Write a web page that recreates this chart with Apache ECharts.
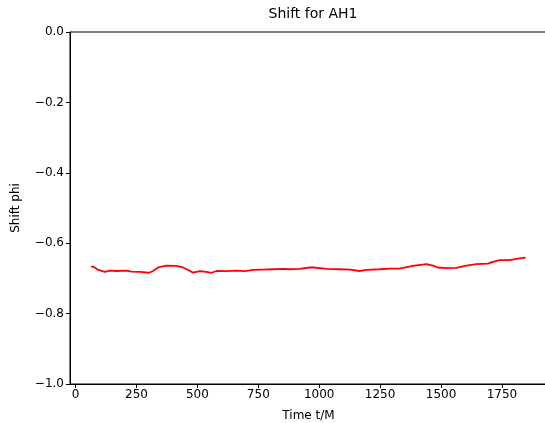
<!DOCTYPE html>
<html>
<head>
<meta charset="utf-8">
<script src="https://cdn.jsdelivr.net/npm/echarts@6/dist/echarts.min.js"></script>
<style>html,body{margin:0;padding:0;background:#fff}#c{width:545px;height:423px}</style>
</head>
<body>
<div id="c"></div>
<script>
const timeValues = [63,72,93,120,141,168,209,230,264,302,318,339,373,414,441,462,482,510,537,558,578,619,660,695,729,770,811,852,879,920,961,975,1030,1084,1125,1166,1194,1248,1289,1330,1358,1392,1440,1467,1487,1522,1563,1604,1645,1693,1713,1741,1782,1809,1847];
const shiftValues = [-0.6665,-0.6665,-0.676,-0.6815,-0.678,-0.679,-0.678,-0.681,-0.6815,-0.684,-0.679,-0.669,-0.664,-0.6645,-0.669,-0.676,-0.6835,-0.6795,-0.6815,-0.684,-0.679,-0.6795,-0.678,-0.6795,-0.676,-0.675,-0.674,-0.673,-0.674,-0.673,-0.669,-0.669,-0.673,-0.674,-0.675,-0.679,-0.676,-0.674,-0.672,-0.672,-0.668,-0.6635,-0.6595,-0.6635,-0.669,-0.671,-0.670,-0.6635,-0.6595,-0.658,-0.653,-0.648,-0.648,-0.6445,-0.641];
const xTicks = [0,250,500,750,1000,1250,1500,1750];
const yTicks = [-1.0,-0.8,-0.6,-0.4,-0.2,0.0];
const titleText = 'Shift for AH1';
const xName = 'Time t/M';
const yName = 'Shift phi';

const chart = echarts.init(document.getElementById('c'), null, {renderer:'canvas'});
const font = 'DejaVu Sans';
const fmtY = v => v.toFixed(1).replace('-', '\u2212');
chart.setOption({
  animation:false,
  backgroundColor:'#fff',
  title:{text:titleText, left:308, top:2, textAlign:'center',
    textStyle:{fontFamily:font, fontSize:14, fontWeight:'normal', color:'#000'}},
  grid:{left:70, top:32, width:477, height:352, show:true, borderColor:'#000', borderWidth:1,
    containLabel:false, outerBoundsMode:'none'},
  xAxis:{type:'value', min:-23, max:1935,
    name:xName, nameLocation:'middle', nameGap:26,
    nameTextStyle:{fontFamily:font, fontSize:12, color:'#000'},
    axisLine:{show:true, onZero:false, lineStyle:{color:'#000', width:1}},
    axisTick:{show:true, inside:false, length:4, customValues:xTicks, lineStyle:{color:'#000'}},
    axisLabel:{show:true, customValues:xTicks, fontFamily:font, fontSize:12, color:'#000', margin:5, formatter: v => String(v)},
    splitLine:{show:false}},
  yAxis:{type:'value', min:-1, max:0, interval:0.2,
    name:yName, nameLocation:'middle', nameGap:48, nameRotate:90,
    nameTextStyle:{fontFamily:font, fontSize:12, color:'#000'},
    axisLine:{show:true, onZero:false, lineStyle:{color:'#000', width:1}},
    axisTick:{show:true, inside:false, length:4, customValues:yTicks, lineStyle:{color:'#000'}},
    axisLabel:{show:true, customValues:yTicks, fontFamily:font, fontSize:12, color:'#000', margin:6, formatter: fmtY},
    splitLine:{show:false}},
  series:[{type:'line', data:timeValues.map((t,i)=>[t, shiftValues[i]]),
    showSymbol:false, symbol:'none', lineStyle:{color:'#ff0000', width:1.8}, itemStyle:{color:'#ff0000'}}]
});
</script>
</body>
</html>
